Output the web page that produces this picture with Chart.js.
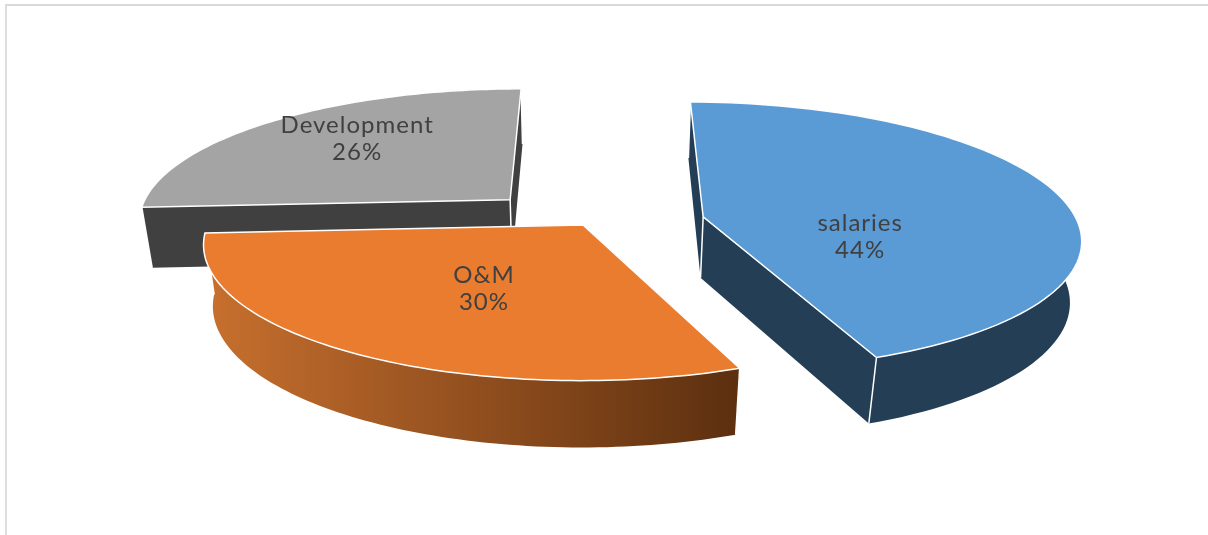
<!DOCTYPE html>
<html>
<head>
<meta charset="utf-8">
<style>
    html, body { margin: 0; background: #fff; overflow: hidden; }
    #frame { position: absolute; left: 5px; top: 4px; width: 1203px; height: 531px;
             border-top: 2px solid #d9d9d9; border-left: 2px solid #dedede; box-sizing: border-box; }
    #myChart { position: absolute; left: 0; top: 0; }
</style>
</head>
<body>
<div id="frame"></div>
<canvas id="myChart" width="1208" height="535"></canvas>
<script src="https://cdn.jsdelivr.net/npm/chart.js@4"></script>
<script>
let labels = ['salaries', 'O&M', 'Development'];
let values = [44, 30, 26];
let pull = [[113, -20], [-8, 3], [-83, -70]]; // how far each slice is moved out, on the pie plane

let topColors = ['#5a9ad5', '#ea7c2f', '#a4a4a4'];
let wallColors = [['#233e55', '#233e55'], ['#c8702e', '#5c2f0f'], ['#404040', '#404040']];
let labelShift = [[157, 19], [-99, 63], [-153, -62]]; // text, from the slice tip

// camera for the tilted view
const TILT = Math.asin(0.355);
const DIST = 2465;
const DEPTH = 67;
const TAPER = 2.5; // walls narrow faster going down than the tilt alone gives

let project = (arc, u, v, z) => {
    let yc = v * Math.sin(TILT) - z * Math.cos(TILT);
    let d = DIST - v * Math.cos(TILT) - z * Math.sin(TILT) * TAPER;
    return [arc.x + DIST * u / d, arc.y + DIST * yc / d];
};

let tracePath = (ctx, pts) => {
    ctx.beginPath();
    pts.forEach((p, i) => i ? ctx.lineTo(p[0], p[1]) : ctx.moveTo(p[0], p[1]));
    ctx.closePath();
};

let drawSlice = (chart, arc, i) => {
    let ctx = chart.ctx;
    let ox = pull[i][0];
    let oy = pull[i][1];

    // rim points of the slice, on the circle the library worked out
    let rim = [];
    for (let n = 0; n <= 90; n++) {
        let a = arc.startAngle + (arc.endAngle - arc.startAngle) * n / 90;
        rim.push([ox + Math.cos(a) * arc.outerRadius, oy + Math.sin(a) * arc.outerRadius]);
    }
    let up = (p) => project(arc, p[0], p[1], 0);
    let down = (p) => project(arc, p[0], p[1], -DEPTH);
    let tip = [ox, oy];
    let first = rim[0];
    let last = rim[rim.length - 1];

    let xs = rim.map(p => up(p)[0]);
    let grad = ctx.createLinearGradient(Math.min(...xs), 0, Math.max(...xs), 0);
    grad.addColorStop(0, wallColors[i][0]);
    grad.addColorStop(1, wallColors[i][1]);

    // walls first, top goes over them
    ctx.fillStyle = grad;
    tracePath(ctx, [up(tip), up(first), down(first), down(tip)]);
    ctx.fill();
    tracePath(ctx, [up(tip), up(last), down(last), down(tip)]);
    ctx.fill();
    tracePath(ctx, rim.map(up).concat(rim.slice().reverse().map(down)));
    ctx.fill();

    ctx.strokeStyle = '#fff';
    ctx.lineWidth = 1.5;
    [tip, first, last].forEach(p => {
        let a = up(p), b = down(p);
        ctx.beginPath();
        ctx.moveTo(a[0], a[1]);
        ctx.lineTo(b[0], b[1]);
        ctx.stroke();
    });

    ctx.fillStyle = topColors[i];
    tracePath(ctx, [up(tip)].concat(rim.map(up)));
    ctx.fill();
    ctx.stroke();
};

let tiltedPie = {
    id: 'tiltedPie',
    beforeDatasetDraw(chart) {
        let arcs = chart.getDatasetMeta(0).data;
        // back slices first
        let order = arcs.map((a, i) => i).sort((p, q) => {
            let mp = (arcs[p].startAngle + arcs[p].endAngle) / 2;
            let mq = (arcs[q].startAngle + arcs[q].endAngle) / 2;
            return Math.sin(mp) - Math.sin(mq);
        });
        order.forEach(i => drawSlice(chart, arcs[i], i));
        return false; // we drew it ourselves
    },
    afterDatasetsDraw(chart) {
        let ctx = chart.ctx;
        ctx.save();
        ctx.font = '24px Lato';
        ctx.letterSpacing = '1px';
        ctx.fillStyle = '#404040';
        ctx.textAlign = 'center';
        ctx.textBaseline = 'middle';
        chart.getDatasetMeta(0).data.forEach((arc, i) => {
            let tip = project(arc, pull[i][0], pull[i][1], 0);
            let x = tip[0] + labelShift[i][0];
            let y = tip[1] + labelShift[i][1];
            ctx.fillText(labels[i], x, y - 13);
            ctx.fillText(values[i] + '%', x, y + 14);
        });
        ctx.restore();
    }
};

let myChart = new Chart(document.getElementById('myChart'), {
    type: 'pie',
    data: {
        labels: labels,
        datasets: [{ data: values, backgroundColor: topColors }]
    },
    options: {
        responsive: false,
        animation: false,
        rotation: 0.2,
        radius: 375,
        layout: { padding: { right: 26, bottom: 87 } },
        plugins: { legend: { display: false }, tooltip: { enabled: false } }
    },
    plugins: [tiltedPie]
});
</script>
</body>
</html>
